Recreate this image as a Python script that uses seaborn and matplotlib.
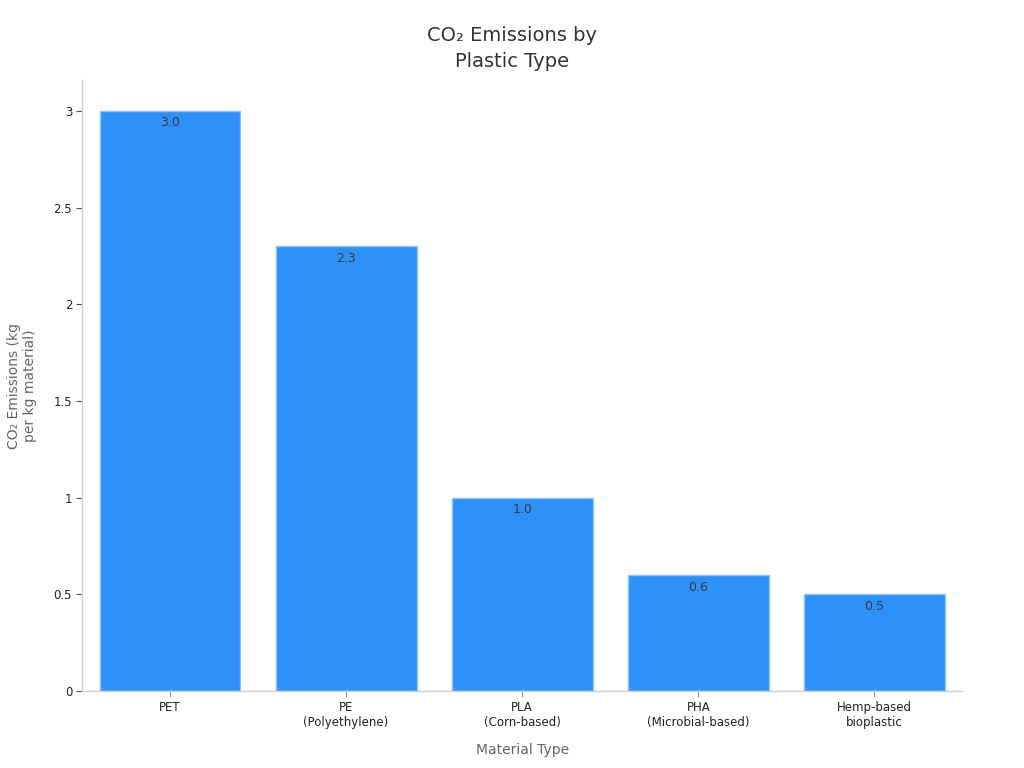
import matplotlib
matplotlib.use("Agg")
import matplotlib.pyplot as plt
import seaborn as sns
import pandas as pd

# data
materials = ["PET", "PE\n(Polyethylene)", "PLA\n(Corn-based)", "PHA\n(Microbial-based)", "Hemp-based\nbioplastic"]
emissions = [3.0, 2.3, 1.0, 0.6, 0.5]
ytick_vals = [0, 0.5, 1, 1.5, 2, 2.5, 3]
ytick_labels = ["0", "0.5", "1", "1.5", "2", "2.5", "3"]

df = pd.DataFrame({"material": materials, "emissions": emissions})

sns.set_style("white")
plt.rcParams["font.family"] = ["DejaVu Sans"]

fig = plt.figure(figsize=(10.24, 7.68), dpi=100)
ax = fig.add_axes([0.080, 0.100, 0.860, 0.796])

sns.barplot(data=df, x="material", y="emissions", color="#2E91F7",
            saturation=1, width=0.8, edgecolor="#8FC3F5", linewidth=1, ax=ax)

for i, v in enumerate(emissions):
    ax.text(i, v - 0.028, f"{v:.1f}", ha="center", va="top", fontsize=9, color="#3a3a3a")

ax.set_xlim(-0.5, 4.5)
ax.set_ylim(0, 3.16)
ax.set_yticks(ytick_vals)
ax.set_yticklabels(ytick_labels)
ax.tick_params(axis="both", labelsize=8.5, length=4, width=0.8, bottom=True, left=True, pad=3)
ax.tick_params(axis="x", colors="#999999", labelcolor="#222222")
ax.tick_params(axis="y", colors="#555555", labelcolor="#222222")

for s in ["top", "right"]:
    ax.spines[s].set_visible(False)
for s in ["left", "bottom"]:
    ax.spines[s].set_color("#d0d0d0")
    ax.spines[s].set_linewidth(1)

ax.set_xlabel("Material Type", fontsize=10, color="#666666", labelpad=10)
ax.set_ylabel("CO\u2082 Emissions (kg\nper kg material)", fontsize=10, color="#666666", labelpad=12)
fig.suptitle("CO\u2082 Emissions by\nPlastic Type", fontsize=14, color="#333333", y=0.966,
             linespacing=1.45)

fig.savefig("out.png", dpi=100)
